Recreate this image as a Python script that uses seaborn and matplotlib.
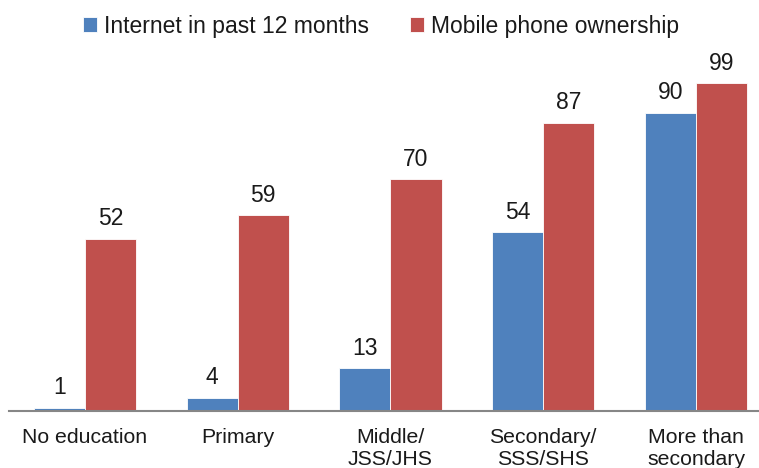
import pandas as pd
import matplotlib.pyplot as plt
import seaborn as sns

categories = ['No education', 'Primary', 'Middle/\nJSS/JHS', 'Secondary/\nSSS/SHS', 'More than\nsecondary']
internet = [1, 4, 13, 54, 90]
mobile = [52, 59, 70, 87, 99]
series_names = ['Internet in past 12 months', 'Mobile phone ownership']

df = pd.DataFrame({
    'category': categories * 2,
    'value': internet + mobile,
    'series': [series_names[0]] * 5 + [series_names[1]] * 5,
})

sns.set_style('white')
plt.rcParams['font.family'] = ['Liberation Sans', 'DejaVu Sans']

fig = plt.figure(figsize=(7.59, 4.68), dpi=100)
# axes runs a little past the right edge of the figure, like the original
ax = fig.add_axes([8.6 / 759, 57 / 468, 763.75 / 759, 411 / 468])

sns.barplot(data=df, x='category', y='value', hue='series',
            palette=['#4F81BD', '#C0504D'], saturation=1, width=0.67,
            edgecolor='white', linewidth=0.6, ax=ax)

for c in ax.containers:
    ax.bar_label(c, fmt='%d', padding=6, fontsize=16.5, color='#1a1a1a')

ax.set_ylim(0, 124)
ax.set_xlim(-0.5, 4.5)
ax.set_xlabel('')
ax.set_ylabel('')
ax.set_yticks([])
ax.tick_params(axis='x', length=0, pad=12.5, labelsize=15.3, colors='#1a1a1a')
for s in ['top', 'right', 'left']:
    ax.spines[s].set_visible(False)
ax.spines['bottom'].set_color('#868686')
ax.spines['bottom'].set_linewidth(1.5)

leg = ax.legend(loc='center', bbox_to_anchor=(381 / 759, 1 - 26 / 468),
                bbox_transform=fig.transFigure, ncol=2, frameon=False,
                fontsize=16.5, handlelength=0.6, handleheight=0.6,
                handletextpad=0.3, columnspacing=1.8)
for t in leg.get_texts():
    t.set_color('#1a1a1a')

fig.savefig('out.png', dpi=100)
